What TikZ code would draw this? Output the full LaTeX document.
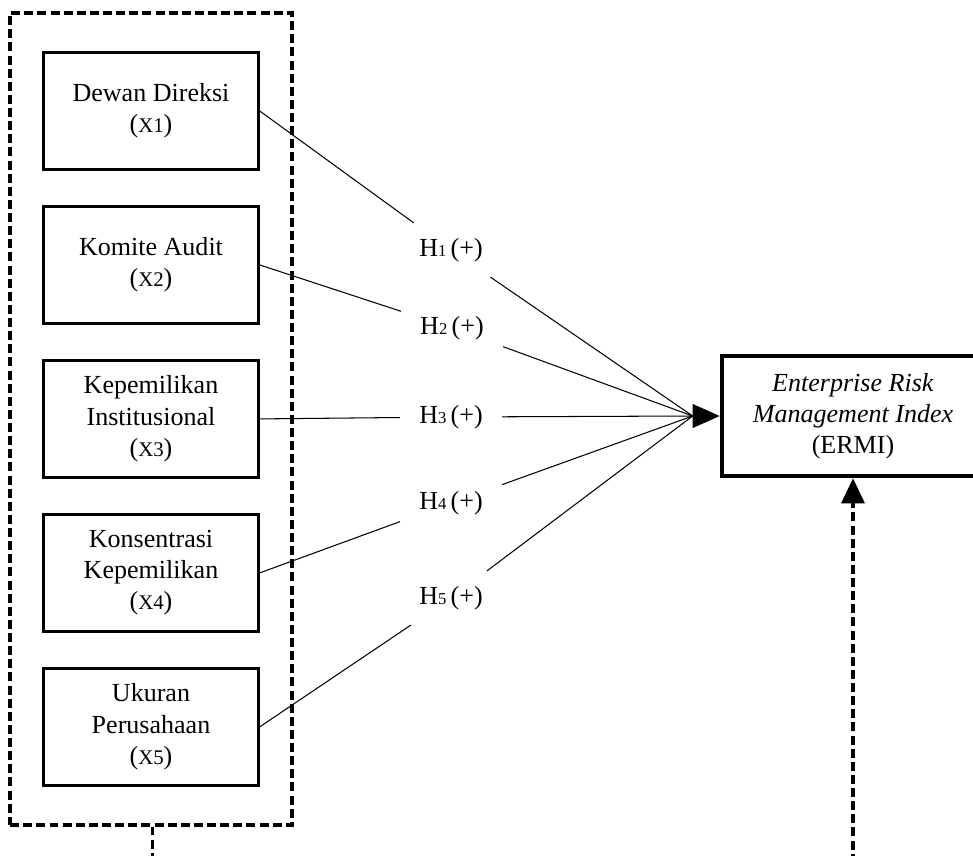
\documentclass[tikz,border=0pt]{standalone}
\usepackage{fontspec}
\setmainfont{Liberation Serif}
\usepackage{tikz}
\usetikzlibrary{positioning,arrows.meta,fit,calc}
\newcommand{\smx}[1]{{\fontsize{10}{12}\selectfont #1}}
\newcommand{\hyp}[1]{H{\fontsize{8}{8}\selectfont #1}\,(+)}
\tikzset{
  node-var/.style={draw,line width=1.4pt,minimum width=103pt,minimum height=56.2pt,
    align=center,inner sep=2pt,font=\fontsize{12.5}{15}\selectfont},
  node-dep/.style={draw,line width=2.2pt,minimum width=125.8pt,minimum height=57.6pt,
    align=center,font=\fontsize{12.5}{15}\selectfont},
  node-hyp/.style={minimum width=49pt,minimum height=26pt,inner sep=0pt,outer sep=0pt,
    font=\fontsize{12.5}{15}\selectfont},
  group-box/.style={draw,line width=1.7pt,dash pattern=on 4.3pt off 2pt,
    inner xsep=15.4pt,inner ysep=18.2pt},
  link/.style={line width=0.5pt},
  arrow/.style={-{Triangle[length=13pt,width=11.5pt]},line width=0.5pt},
  arrow-dash/.style={-{Triangle[length=12pt,width=11pt]},line width=1.7pt,
    dash pattern=on 4.3pt off 2pt},
  lifeline/.style={line width=1.7pt,dash pattern=on 4.3pt off 2pt},
}
\begin{document}
\begin{tikzpicture}[x=0.48pt,y=-0.48pt,node distance=16.3pt]
  \useasboundingbox (0,0) rectangle (973,856);
  % variabel independen
  \node[node-var] (dd) at (151,111) {Dewan Direksi\\(\smx{X1})};
  \node[node-var,below=of dd] (ka) {Komite Audit\\(\smx{X2})};
  \node[node-var,below=of ka] (ki) {Kepemilikan\\Institusional\\(\smx{X3})};
  \node[node-var,below=of ki] (kk) {Konsentrasi\\Kepemilikan\\(\smx{X4})};
  \node[node-var,below=of kk] (up) {Ukuran\\Perusahaan\\(\smx{X5})};
  \node[group-box,fit=(dd)(ka)(ki)(kk)(up)] (grp) {};
  % variabel dependen
  \node[node-dep] (ermi) at (853,416)
    {\textit{Enterprise Risk}\\\textit{Management Index}\\(ERMI)};
  \coordinate (tip) at ($(ermi.west)+(-27,0)$);
  % hipotesis
  \node[node-hyp] (h1) at (451,250) {\hyp{1}};
  \node[node-hyp] (h2) at (452,328) {\hyp{2}};
  \node[node-hyp] (h3) at (451,417) {\hyp{3}};
  \node[node-hyp] (h4) at (451,503) {\hyp{4}};
  \node[node-hyp] (h5) at (451,598) {\hyp{5}};
  \draw[link] (dd.east) -- (h1) -- (tip);
  \draw[link] (ka.east) -- (h2) -- (tip);
  \draw[link] (ki.east) -- (h3) -- (tip);
  \draw[link] (kk.east) -- (h4) -- (tip);
  \draw[link] (up.east) -- (h5) -- (tip);
  \draw[arrow] (tip) -- (ermi.west);
  % garis putus-putus ke bawah
  \coordinate (gbot) at ($(grp.south)+(1.5,40)$);
  \coordinate (ebot) at ($(ermi.south)+(0,450)$);
  \draw[lifeline] ($(grp.south)+(1.5,0)$) -- (gbot);
  \draw[arrow-dash] (ebot) -- (ermi.south);
\end{tikzpicture}
\end{document}
